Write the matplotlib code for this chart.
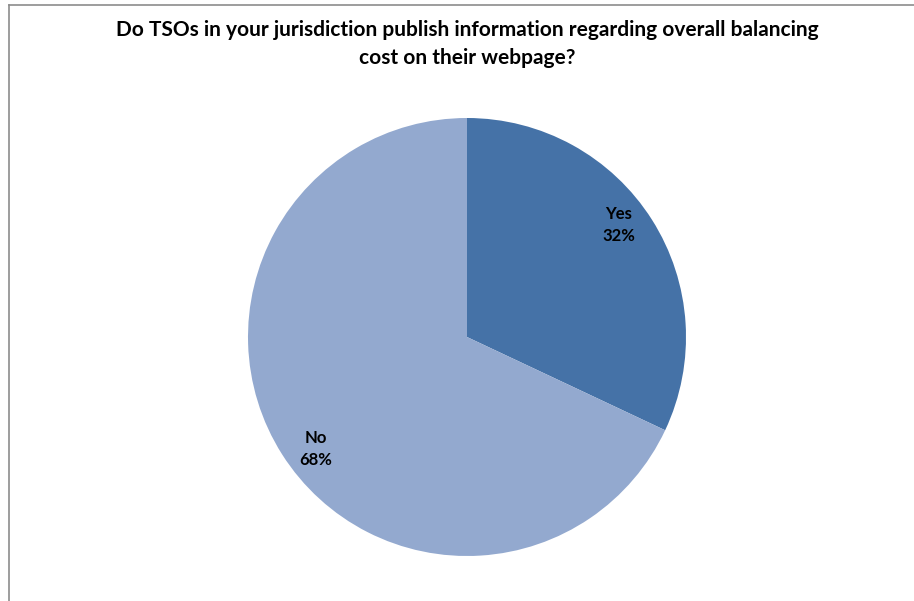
import numpy as np
import matplotlib.pyplot as plt
from matplotlib.lines import Line2D

labels = ["Yes", "No"]
shares = [32, 68]
colors = ["#4572A7", "#93A9CF"]
title = "Do TSOs in your jurisdiction publish information regarding overall balancing\ncost on their webpage?"

plt.rcParams["font.family"] = ["Lato", "DejaVu Sans"]

fig = plt.figure(figsize=(9.14, 6.01), dpi=100)
ax = fig.add_axes([(467 - 219) / 914, (601 - 556) / 601, 438 / 914, 438 / 601])

wedges, texts = ax.pie(
    shares,
    labels=[f"{l}\n{s}%" for l, s in zip(labels, shares)],
    colors=colors,
    startangle=90,
    counterclock=False,
    labeldistance=0.86,
    textprops=dict(fontsize=12, fontweight="bold", ha="center", va="center",
                   linespacing=1.45),
)
# nudge labels slightly anticlockwise around the centre
rot = np.deg2rad(4)
for t in texts:
    x, y = t.get_position()
    t.set_position((x * np.cos(rot) - y * np.sin(rot), x * np.sin(rot) + y * np.cos(rot)))

ax.set_xlim(-1, 1)
ax.set_ylim(-1, 1)
ax.set_aspect("equal")

fig.text(467 / 914, 1 - 44 / 601, title, ha="center", va="center",
         fontsize=15, fontweight="bold", linespacing=1.45)

# chart area border (top and left edges visible)
fig.add_artist(Line2D([9 / 914, 9 / 914], [0, 1 - 5 / 601], transform=fig.transFigure,
                      color="#8c8c8c", lw=1.2))
fig.add_artist(Line2D([9 / 914, 1], [1 - 5 / 601, 1 - 5 / 601], transform=fig.transFigure,
                      color="#8c8c8c", lw=1.2))

fig.savefig("out.png", dpi=100)
